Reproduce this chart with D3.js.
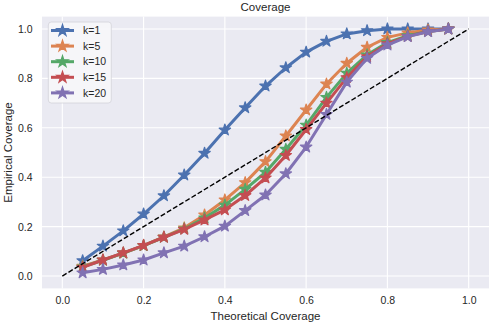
<!DOCTYPE html>
<html>
<head>
<meta charset="utf-8">
<script src="https://cdn.jsdelivr.net/npm/d3@7"></script>
<style>
	body { margin: 0; background: #fff; }
	text { font-family: "Liberation Sans", Arial, sans-serif; fill: #262626; }
</style>
</head>
<body>
<svg id="chart"></svg>
<script>
// theoretical coverage levels
const levels = [0.05, 0.10, 0.15, 0.20, 0.25, 0.30, 0.35, 0.40, 0.45, 0.50, 0.55, 0.60, 0.65, 0.70, 0.75, 0.80, 0.85, 0.90, 0.95];

// empirical coverage per k
const k1 = [0.062, 0.121, 0.183, 0.251, 0.325, 0.409, 0.497, 0.591, 0.681, 0.769, 0.843, 0.906, 0.950, 0.980, 0.993, 1.0, 1.0, 1.0, 1.0];
const k5 = [0.040, 0.065, 0.093, 0.123, 0.158, 0.195, 0.247, 0.308, 0.378, 0.463, 0.567, 0.672, 0.777, 0.861, 0.926, 0.966, 0.984, 0.996, 1.0];
const k10 = [0.037, 0.064, 0.093, 0.123, 0.157, 0.191, 0.235, 0.287, 0.351, 0.420, 0.513, 0.611, 0.723, 0.821, 0.895, 0.945, 0.973, 0.990, 1.0];
const k15 = [0.035, 0.065, 0.094, 0.124, 0.157, 0.189, 0.227, 0.268, 0.326, 0.397, 0.488, 0.593, 0.700, 0.803, 0.888, 0.940, 0.970, 0.990, 1.0];
const k20 = [0.013, 0.027, 0.045, 0.065, 0.094, 0.121, 0.159, 0.202, 0.265, 0.328, 0.414, 0.522, 0.654, 0.785, 0.881, 0.935, 0.969, 0.989, 1.0];

const seriesNames = ['k=1', 'k=5', 'k=10', 'k=15', 'k=20'];
const seriesValues = [k1, k5, k10, k15, k20];
const seriesColors = ['#4C72B0', '#DD8452', '#55A868', '#C44E52', '#8172B3'];

const tickValues = [0.0, 0.2, 0.4, 0.6, 0.8, 1.0];

const containerWidth = 492;
const containerHeight = 333;

const svg = d3.select('#chart')
	.attr('width', containerWidth)
	.attr('height', containerHeight);

// plot area, matplotlib style 5% margins round [0, 1]
const xScale = d3.scaleLinear()
	.domain([-0.05, 1.05])
	.range([42.0, 489.0]);

const yScale = d3.scaleLinear()
	.domain([-0.05, 1.05])
	.range([288.4, 16.6]);

// background
svg.append('rect')
	.attr('x', xScale(-0.05))
	.attr('y', yScale(1.05))
	.attr('width', xScale(1.05) - xScale(-0.05))
	.attr('height', yScale(-0.05) - yScale(1.05))
	.attr('fill', '#EAEAF2');

// grid lines
const grid = svg.append('g').attr('class', 'grid');
grid.selectAll('.vgrid')
	.data(tickValues)
	.join('line')
	.attr('class', 'vgrid')
	.attr('x1', d => xScale(d))
	.attr('x2', d => xScale(d))
	.attr('y1', yScale(1.05))
	.attr('y2', yScale(-0.05))
	.attr('stroke', '#fff')
	.attr('stroke-width', 1.1);
grid.selectAll('.hgrid')
	.data(tickValues)
	.join('line')
	.attr('class', 'hgrid')
	.attr('x1', xScale(-0.05))
	.attr('x2', xScale(1.05))
	.attr('y1', d => yScale(d))
	.attr('y2', d => yScale(d))
	.attr('stroke', '#fff')
	.attr('stroke-width', 1.1);

// axes, no lines or ticks
const xAxis = d3.axisBottom(xScale)
	.tickValues(tickValues)
	.tickFormat(d3.format('.1f'))
	.tickSize(0)
	.tickPadding(8.5);
const yAxis = d3.axisLeft(yScale)
	.tickValues(tickValues)
	.tickFormat(d3.format('.1f'))
	.tickSize(0)
	.tickPadding(9.5);

const xAxisGroup = svg.append('g')
	.attr('transform', `translate(0,${yScale(-0.05)})`)
	.call(xAxis);
const yAxisGroup = svg.append('g')
	.attr('transform', `translate(${xScale(-0.05)},0)`)
	.call(yAxis);

[xAxisGroup, yAxisGroup].forEach(g => {
	g.select('.domain').remove();
	g.selectAll('text')
		.style('font-family', '"Liberation Sans", Arial, sans-serif')
		.style('font-size', '10.5px')
		.attr('fill', '#262626');
});

// lines with star markers
const line = d3.line()
	.x((d, i) => xScale(levels[i]))
	.y(d => yScale(d));

const star = d3.symbol().type(d3.symbolStar).size(40);

seriesValues.forEach((values, s) => {
	svg.append('path')
		.datum(values)
		.attr('d', line)
		.attr('fill', 'none')
		.attr('stroke', seriesColors[s])
		.attr('stroke-width', 3)
		.attr('stroke-linejoin', 'round');

	svg.append('g').selectAll('path')
		.data(values)
		.join('path')
		.attr('transform', (d, i) => `translate(${xScale(levels[i])},${yScale(d)})`)
		.attr('d', star)
		.attr('fill', seriesColors[s])
		.attr('stroke', seriesColors[s])
		.attr('stroke-width', 1.2)
		.attr('stroke-linejoin', 'round');
});

// ideal line
svg.append('line')
	.attr('x1', xScale(0))
	.attr('y1', yScale(0))
	.attr('x2', xScale(1))
	.attr('y2', yScale(1))
	.attr('stroke', '#000')
	.attr('stroke-width', 1.4)
	.attr('stroke-dasharray', '5,2.2');

// legend
const legend = svg.append('g').attr('class', 'legend');
legend.append('rect')
	.attr('x', 48.3)
	.attr('y', 22)
	.attr('width', 63)
	.attr('height', 81)
	.attr('rx', 3)
	.attr('fill', '#F7F7FA')
	.attr('fill-opacity', 0.9)
	.attr('stroke', '#D3D3D9')
	.attr('stroke-width', 0.8);

const rows = legend.selectAll('.row')
	.data(seriesNames)
	.join('g')
	.attr('class', 'row')
	.attr('transform', (d, i) => `translate(0,${30.5 + i * 15.6})`);

rows.append('line')
	.attr('x1', 51)
	.attr('x2', 74)
	.attr('stroke', (d, i) => seriesColors[i])
	.attr('stroke-width', 3);

rows.append('path')
	.attr('transform', 'translate(62.5,0)')
	.attr('d', star)
	.attr('fill', (d, i) => seriesColors[i])
	.attr('stroke', (d, i) => seriesColors[i])
	.attr('stroke-width', 1.2);

rows.append('text')
	.attr('x', 83)
	.attr('dy', '0.35em')
	.style('font-size', '10.5px')
	.text(d => d);

// titles
svg.append('text')
	.attr('x', (xScale(-0.05) + xScale(1.05)) / 2)
	.attr('y', 11)
	.style('font-size', '11.5px')
	.style('text-anchor', 'middle')
	.text('Coverage');

svg.append('text')
	.attr('x', (xScale(-0.05) + xScale(1.05)) / 2)
	.attr('y', 320)
	.style('font-size', '11.5px')
	.style('text-anchor', 'middle')
	.text('Theoretical Coverage');

svg.append('text')
	.attr('transform', 'rotate(-90)')
	.attr('x', -(yScale(-0.05) + yScale(1.05)) / 2)
	.attr('y', 12)
	.style('font-size', '11.5px')
	.style('text-anchor', 'middle')
	.text('Empirical Coverage');
</script>
</body>
</html>
